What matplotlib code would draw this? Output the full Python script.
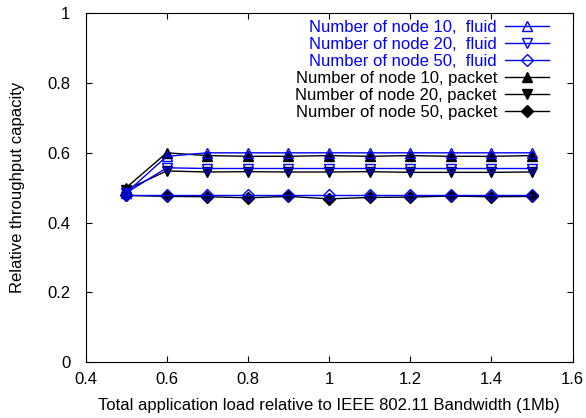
import matplotlib
matplotlib.use("Agg")
import matplotlib.pyplot as plt

plt.rcParams['font.family'] = ['Liberation Sans', 'DejaVu Sans']

load = [0.5, 0.6, 0.7, 0.8, 0.9, 1.0, 1.1, 1.2, 1.3, 1.4, 1.5]

fluid_10 = [0.485, 0.59, 0.6, 0.6, 0.6, 0.6, 0.6, 0.6, 0.6, 0.6, 0.6]
fluid_20 = [0.485, 0.557, 0.555, 0.555, 0.555, 0.555, 0.555, 0.555, 0.555, 0.555, 0.555]
fluid_50 = [0.48, 0.48, 0.48, 0.48, 0.48, 0.48, 0.48, 0.48, 0.48, 0.48, 0.48]
packet_10 = [0.5, 0.6, 0.592, 0.59, 0.59, 0.592, 0.59, 0.592, 0.59, 0.59, 0.592]
packet_20 = [0.494, 0.548, 0.545, 0.546, 0.545, 0.545, 0.546, 0.544, 0.544, 0.544, 0.545]
packet_50 = [0.478, 0.475, 0.474, 0.471, 0.475, 0.468, 0.472, 0.473, 0.476, 0.474, 0.475]

series = [
    ("Number of node 10,  fluid", fluid_10, "blue", "^", "none"),
    ("Number of node 20,  fluid", fluid_20, "blue", "v", "none"),
    ("Number of node 50,  fluid", fluid_50, "blue", "D", "none"),
    ("Number of node 10, packet", packet_10, "black", "^", "black"),
    ("Number of node 20, packet", packet_20, "black", "v", "black"),
    ("Number of node 50, packet", packet_50, "black", "D", "black"),
]

fig = plt.figure(figsize=(5.86, 4.18), dpi=100)
ax = fig.add_axes([0.146, 0.134, 0.831, 0.834])

# packet curves go under the open fluid markers
lines = {}
for label, vals, col, mk, fc in series[3:] + series[:3]:
    ms = 6 if mk == "D" else 7
    ln, = ax.plot(load, vals, color=col, marker=mk, markerfacecolor=fc,
                  markeredgecolor=col, markersize=ms, linewidth=1, label=label)
    lines[label] = ln

ax.set_xlim(0.4, 1.6)
ax.set_ylim(0, 1)
ax.set_xticks([0.4, 0.6, 0.8, 1.0, 1.2, 1.4, 1.6])
ax.set_xticklabels(["0.4", "0.6", "0.8", "1", "1.2", "1.4", "1.6"])
ax.set_yticks([0, 0.2, 0.4, 0.6, 0.8, 1.0])
ax.set_yticklabels(["0", "0.2", "0.4", "0.6", "0.8", "1"])
ax.tick_params(direction="in", top=True, right=True, labelsize=12, length=4)
ax.tick_params(axis="x", pad=7)
ax.tick_params(axis="y", pad=11)
ax.set_xlabel("Total application load relative to IEEE 802.11 Bandwidth (1Mb)", fontsize=12, labelpad=8)
ax.set_ylabel("Relative throughput capacity", fontsize=12, labelpad=16)

names = [s[0] for s in series]
leg = ax.legend([lines[n] for n in names], names,
                loc="upper right", bbox_to_anchor=(0.968, 1.006),
                frameon=False, markerfirst=False,
                fontsize=12, handlelength=2.6, labelspacing=0.12,
                borderaxespad=0.2, handletextpad=0.5, borderpad=0.3)
for t in leg.get_texts():
    if "fluid" in t.get_text():
        t.set_color("blue")
    t.set_ha("right")

fig.savefig("out.png", dpi=100)
